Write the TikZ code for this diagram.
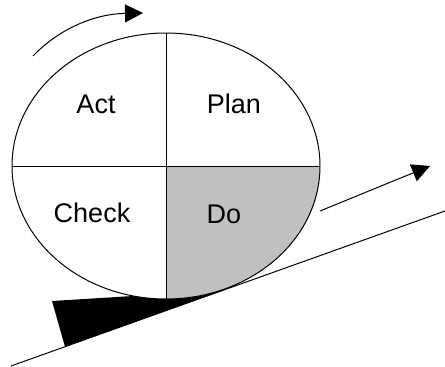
\documentclass[tikz,border=0pt]{standalone}
\usepackage{fontspec}
\setmainfont{Liberation Sans}
\usepackage{tikz}
\usetikzlibrary{arrows.meta}
\definecolor{dogray}{RGB}{192, 192, 192}

\begin{document}
\begin{tikzpicture}[x=1pt, y=-1pt, line width=1pt,
    phase/.style={font=\fontsize{27}{32}\selectfont, inner sep=0pt},
    turn/.style={-{Triangle[length=18pt, width=18pt]}}]
    \useasboundingbox (0,0) rectangle (445,367);

    % Slope and the wedge under the wheel
    \coordinate (slopelow) at (11,366);
    \coordinate (slopehigh) at (445,211);
    \fill[black] (52,301) -- (133,296) -- (225,289.6) -- (65,346.7) -- cycle;

    % Wheel
    \fill[white] (166,166) ellipse (154pt and 133pt);
    \begin{scope}
        \clip (166,166) ellipse (154pt and 133pt);
        \fill[dogray] (166,166) rectangle (330,310);
    \end{scope}
    \draw (166,166) ellipse (154pt and 133pt);
    \draw (166,33) -- (166,299);
    \draw (12,166) -- (320,166);
    \draw (slopelow) -- (slopehigh);

    % Phases
    \node[phase] (act) at (96,104) {Act};
    \node[phase] (plan) at (234,104) {Plan};
    \node[phase] (check) at (92,213) {Check};
    \node[phase] (do) at (224,214) {Do};

    % Rolling direction
    \coordinate (spinstart) at (33,56);
    \coordinate (spinend) at (143,13);
    \draw[turn] (spinstart) .. controls (60,28) and (95,14) .. (spinend);
    \coordinate (climbstart) at (320,211);
    \coordinate (climbend) at (430,166);
    \draw[turn] (climbstart) -- (climbend);
\end{tikzpicture}
\end{document}
